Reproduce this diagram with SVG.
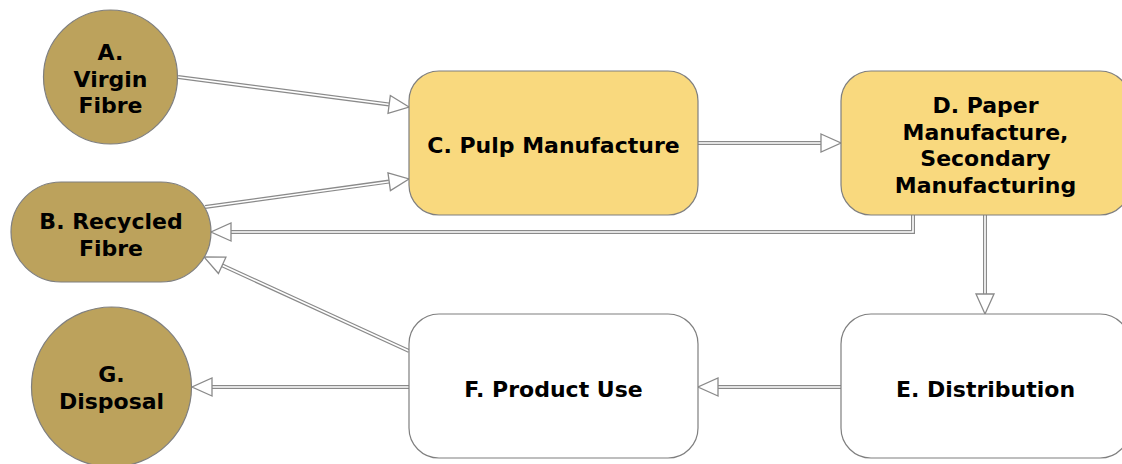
<svg xmlns="http://www.w3.org/2000/svg" width="1122" height="464" viewBox="0 0 1122 464">
<style>
.tan{fill:#BCA25C;stroke:#7f7f7f;stroke-width:1.2}
.yel{fill:#F9D97E;stroke:#7f7f7f;stroke-width:1.2}
.wht{fill:#ffffff;stroke:#7f7f7f;stroke-width:1.2}
text{font-family:"DejaVu Sans","Verdana",sans-serif;font-weight:bold;font-size:22px;fill:#000;text-anchor:middle}
.co{fill:none;stroke:#8a8a8a;stroke-width:4}
.ci{fill:none;stroke:#ffffff;stroke-width:1.6;marker-end:url(#arr)}
</style>
<defs>
<marker id="arr" markerUnits="userSpaceOnUse" markerWidth="24" markerHeight="22" refX="20" refY="9" orient="auto" overflow="visible">
<path d="M0,0 L20,9 L0,18 Z" fill="#ffffff" stroke="#8a8a8a" stroke-width="1.3"/>
</marker>
</defs>
<rect width="1122" height="464" fill="#ffffff"/>
<g id="connectors">
<g id="A-C"><path class="co" d="M178,77 L389,104.4"/><path class="ci" d="M178,77 L409,107"/></g>
<g id="B-C"><path class="co" d="M205,207 L389,181.6"/><path class="ci" d="M205,207 L409,179"/></g>
<g id="C-D"><path class="co" d="M698,143 L821,143"/><path class="ci" d="M698,143 L841,143"/></g>
<g id="D-B"><path class="co" d="M913,215 V232 H231"/><path class="ci" d="M913,215 V232 H211"/></g>
<g id="D-E"><path class="co" d="M985,215 V294"/><path class="ci" d="M985,215 V314"/></g>
<g id="E-F"><path class="co" d="M841,387 H718"/><path class="ci" d="M841,387 H698"/></g>
<g id="F-G"><path class="co" d="M409,387 H212"/><path class="ci" d="M409,387 H192"/></g>
<g id="F-B"><path class="co" d="M409,351 L222,265.3"/><path class="ci" d="M409,351 L204,257"/></g>
</g>
<g id="nodeA"><circle class="tan" cx="110.5" cy="77" r="67"/><text x="110.5" y="60">A.</text><text x="110.5" y="86.5">Virgin</text><text x="110.5" y="113">Fibre</text></g>
<g id="nodeB"><rect class="tan" x="11" y="182" width="200" height="100" rx="50"/><text x="111" y="229">B. Recycled</text><text x="111" y="255.5">Fibre</text></g>
<g id="nodeC"><rect class="yel" x="409" y="71" width="289" height="144" rx="30"/><text x="553.5" y="153">C. Pulp Manufacture</text></g>
<g id="nodeD"><rect class="yel" x="841" y="71" width="289" height="144" rx="30"/><text x="985.5" y="113">D. Paper</text><text x="985.5" y="139.7">Manufacture,</text><text x="985.5" y="166.4">Secondary</text><text x="985.5" y="193">Manufacturing</text></g>
<g id="nodeE"><rect class="wht" x="841" y="314" width="289" height="144" rx="30"/><text x="985.5" y="397">E. Distribution</text></g>
<g id="nodeF"><rect class="wht" x="409" y="314" width="289" height="144" rx="30"/><text x="553.5" y="397">F. Product Use</text></g>
<g id="nodeG"><circle class="tan" cx="111.5" cy="387" r="80"/><text x="111.5" y="382">G.</text><text x="111.5" y="408.5">Disposal</text></g>
</svg>
